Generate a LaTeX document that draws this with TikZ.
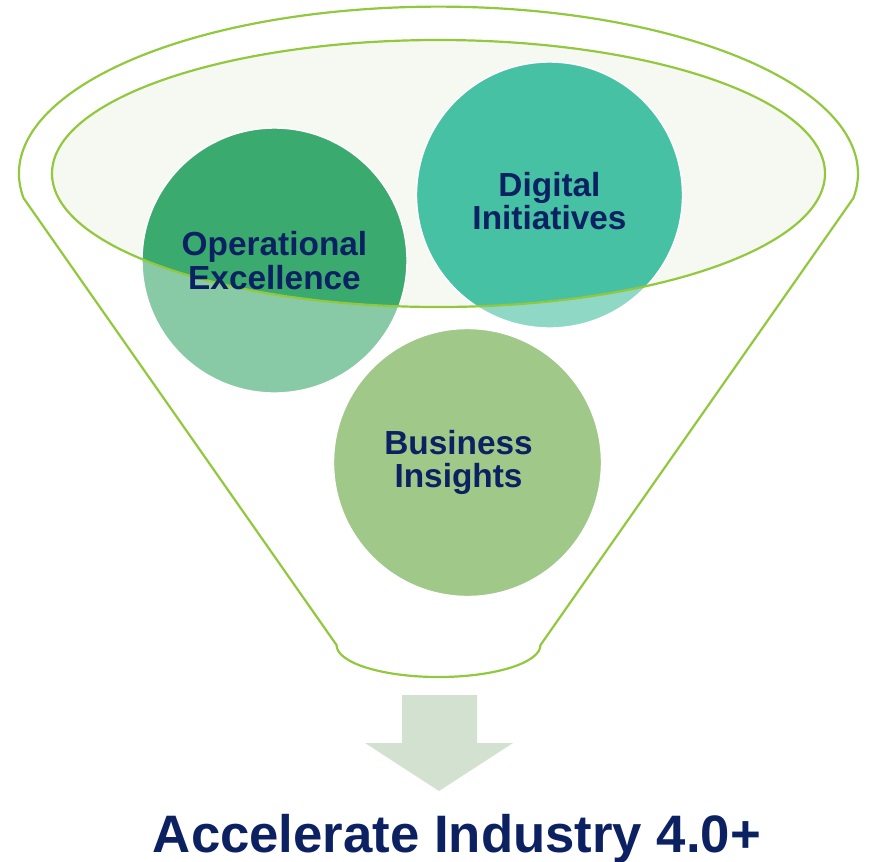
\documentclass[tikz,border=0pt]{standalone}
\usepackage{fontspec}
\setmainfont{Liberation Sans}
\usepackage{tikz}
\usetikzlibrary{positioning}

\definecolor{funnelline}{HTML}{92C83E}
\definecolor{funnelfill}{HTML}{F6F9F2}
\definecolor{opdark}{HTML}{3AAA6E}
\definecolor{oplight}{HTML}{88C9A6}
\definecolor{digdark}{HTML}{46C1A3}
\definecolor{diglight}{HTML}{90D8C6}
\definecolor{busfill}{HTML}{A0C888}
\definecolor{arrowfill}{HTML}{D3E2D0}
\definecolor{navytext}{HTML}{0B2161}

\tikzset{
    funnel/.style={draw=funnelline, line width=1.25pt},
    bubble/.style={circle, minimum size=5.3cm, inner sep=0pt, align=center,
        text=navytext, font=\fontsize{19}{19}\selectfont\bfseries},
    rim/.style={draw=white, line width=0.8pt}
}

\begin{document}
\begin{tikzpicture}
        \useasboundingbox (0,0) rectangle (17.52,-17.22);
        
        % Funnel body
        \draw [funnel] (0.47,-3.96) arc[start angle=188.4, end angle=-8.4, x radius=8.39, y radius=3.34]
            -- (10.81,-12.9) arc[start angle=0, end angle=-180, x radius=2.04, y radius=0.64] -- cycle;
        \fill [funnelfill] (8.77,-3.47) ellipse[x radius=7.73, y radius=2.67];
        
        % Circle centres
        \coordinate (opc) at (5.49,-5.21);
        \coordinate (digc) at (10.99,-3.90);
        \coordinate (busc) at (9.35,-9.25);
        
        % Circles, lighter below the rim
        \fill [oplight] (opc) circle[radius=2.65];
        \fill [diglight] (digc) circle[radius=2.66];
        \fill [busfill] (busc) circle[radius=2.68];
        \begin{scope}
            \clip (8.77,-3.47) ellipse[x radius=7.73, y radius=2.67];
            \fill [opdark] (opc) circle[radius=2.65];
            \fill [digdark] (digc) circle[radius=2.66];
        \end{scope}
        \draw [rim] (opc) circle[radius=2.65];
        \draw [rim] (digc) circle[radius=2.66];
        \draw [rim] (busc) circle[radius=2.68];
        
        % Funnel rim
        \draw [funnel] (8.77,-3.47) ellipse[x radius=7.73, y radius=2.67];
        
        % Labels
        \node [bubble] (op) at (opc) {Operational\\Excellence};
        \node [bubble, yshift=-0.12cm] (dig) at (digc) {Digital\\Initiatives};
        \node [bubble, xshift=-0.18cm] (bus) at (busc) {Business\\Insights};
        
        % Output arrow
        \fill [arrowfill] (8.04,-13.9) -- (9.54,-13.9) -- (9.54,-14.86) -- (10.26,-14.86)
            -- (8.78,-15.82) -- (7.30,-14.86) -- (8.04,-14.86) -- cycle;
        \node [anchor=base, text=navytext, font=\fontsize{30}{36}\selectfont\bfseries] (goal) at (9.14,-17.04) {Accelerate Industry 4.0+};
    \end{tikzpicture}
\end{document}
